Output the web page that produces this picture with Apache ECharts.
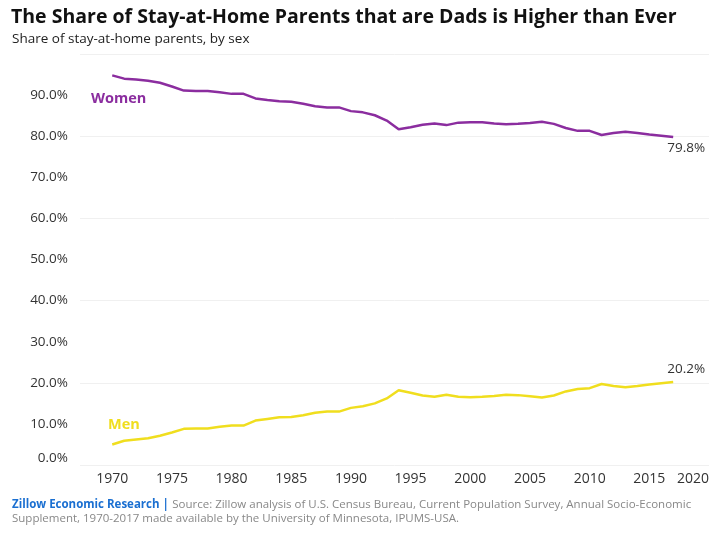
<!DOCTYPE html>
<html>
<head>
<meta charset="utf-8">
<script src="https://cdn.jsdelivr.net/npm/echarts@6/dist/echarts.min.js"></script>
<style>
html,body{margin:0;padding:0;background:#fff;}
#c{width:720px;height:539px;}
</style>
</head>
<body>
<div id="c"></div>
<script>
const years = [];
for (let y = 1970; y <= 2017; y++) years.push(y);
const women = [94.8,94.0,93.8,93.5,93.0,92.1,91.1,91.0,91.0,90.7,
  90.3,90.3,89.2,88.8,88.5,88.4,87.9,87.3,87.0,87.0,
  86.1,85.8,85.1,83.8,81.7,82.2,82.8,83.1,82.7,83.3,
  83.4,83.4,83.1,82.9,83.0,83.2,83.5,83.0,82.0,81.3,
  81.3,80.3,80.8,81.1,80.8,80.4,80.1,79.8];
const men = [5.0,5.9,6.2,6.5,7.1,7.9,8.8,8.9,8.9,9.3,
  9.6,9.6,10.8,11.2,11.6,11.7,12.1,12.7,13.0,13.0,
  13.9,14.3,15.0,16.2,18.2,17.6,16.9,16.6,17.1,16.6,
  16.5,16.6,16.8,17.1,17.0,16.7,16.4,16.9,17.9,18.5,
  18.7,19.7,19.2,18.9,19.2,19.6,19.9,20.2];
const xTicks = [1970,1975,1980,1985,1990,1995,2000,2005,2010,2015,2020];
const yTicks = [0,10,20,30,40,50,60,70,80,90];

const purple = '#8B2D9F';
const yellow = '#F0DE1E';
const font = 'Open Sans';

function pairs(vals) {
  return vals.map((v, i) => [years[i], v]);
}

const chart = echarts.init(document.getElementById('c'), null, { renderer: 'canvas' });
chart.setOption({
  backgroundColor: '#fff',
  animation: false,
  title: [{
    text: 'The Share of Stay-at-Home Parents that are Dads is Higher than Ever',
    left: 11, top: 7, padding: 0,
    textStyle: { fontFamily: font, fontWeight: 'bold', fontSize: 19.5, color: '#111' }
  }, {
    text: 'Share of stay-at-home parents, by sex',
    left: 12, top: 32, padding: 0,
    textStyle: { fontFamily: font, fontWeight: 'normal', fontSize: 13.5, color: '#222' }
  }],
  grid: { left: 80, right: 11, top: 54, bottom: 74, containLabel: false },
  xAxis: {
    type: 'value', min: 1967.3, max: 2020,
    axisLine: { show: false }, axisTick: { show: false }, splitLine: { show: false },
    axisLabel: {
      customValues: xTicks, alignMaxLabel: 'right',
      formatter: v => String(v), color: '#333', fontSize: 14, fontFamily: font, margin: 7
    }
  },
  yAxis: {
    type: 'value', min: 0, max: 100,
    axisLine: { show: false }, axisTick: { show: false },
    splitLine: { show: true, lineStyle: { color: '#f0f0f0', width: 1 } },
    axisLabel: {
      customValues: yTicks,
      formatter: v => v === 0 ? '{z|0.0%}' : v.toFixed(1) + '%',
      rich: { z: { padding: [0, 0, 13, 0], color: '#333', fontSize: 13.5, fontFamily: font } },
      color: '#333', fontSize: 13.5, fontFamily: font, margin: 12
    }
  },
  series: [{
    name: 'Women', type: 'line', showSymbol: false, symbol: 'none',
    data: pairs(women),
    lineStyle: { color: purple, width: 2.5 }, itemStyle: { color: purple },
    endLabel: {
      show: true, distance: 0, offset: [-6, 11],
      formatter: p => p.value[1].toFixed(1) + '%',
      color: '#333', fontSize: 13.5, fontFamily: font
    }
  }, {
    name: 'Men', type: 'line', showSymbol: false, symbol: 'none',
    data: pairs(men),
    lineStyle: { color: yellow, width: 2.5 }, itemStyle: { color: yellow },
    endLabel: {
      show: true, distance: 0, offset: [-6, -13],
      formatter: p => p.value[1].toFixed(1) + '%',
      color: '#333', fontSize: 13.5, fontFamily: font
    }
  }],
  graphic: [{
    type: 'text', left: 91, top: 91,
    style: { text: 'Women', fill: purple, font: 'bold 14.5px "Open Sans"' }
  }, {
    type: 'text', left: 108, top: 417,
    style: { text: 'Men', fill: yellow, font: 'bold 14.5px "Open Sans"' }
  }, {
    type: 'text', left: 12, top: 498,
    style: {
      text: '{b|Zillow Economic Research |} {g|Source: Zillow analysis of U.S. Census Bureau, Current Population Survey, Annual Socio-Economic}\n{g|Supplement, 1970-2017 made available by the University of Minnesota, IPUMS-USA.}',
      lineHeight: 14,
      rich: {
        b: { fill: '#1A6FD1', font: 'bold 11.5px "Open Sans"', lineHeight: 14 },
        g: { fill: '#888', font: '11.5px "Open Sans"', lineHeight: 14 }
      }
    }
  }]
});
</script>
</body>
</html>
